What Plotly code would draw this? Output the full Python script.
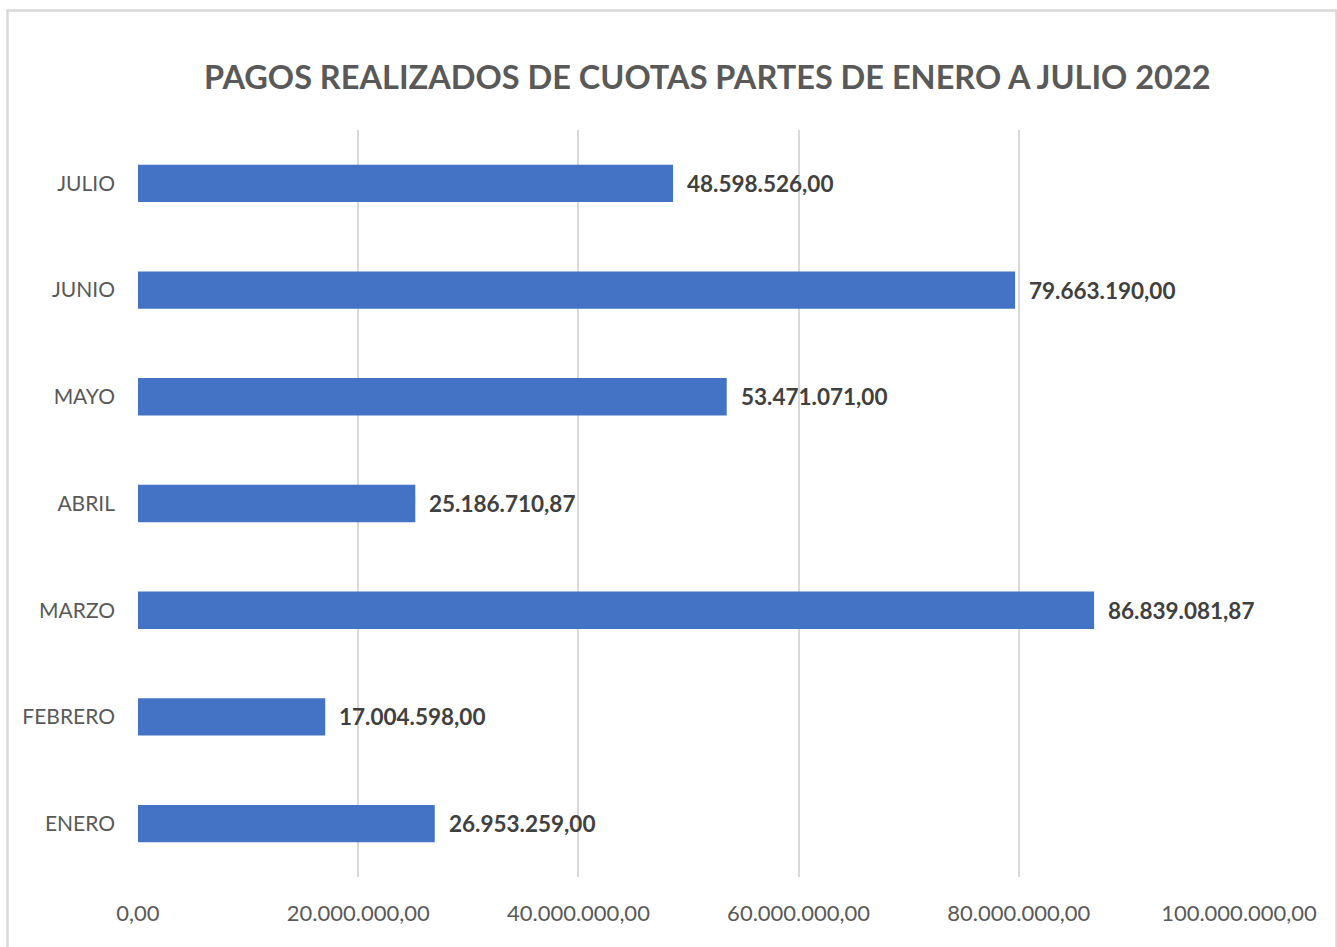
import plotly.graph_objects as go

# data
meses = ["ENERO", "FEBRERO", "MARZO", "ABRIL", "MAYO", "JUNIO", "JULIO"]
pagos = [26953259.00, 17004598.00, 86839081.87, 25186710.87, 53471071.00, 79663190.00, 48598526.00]
x_ticks = [0, 20000000, 40000000, 60000000, 80000000, 100000000]

FONT = "Lato, Open Sans, sans-serif"
GRAY = "#595959"


def fmt_es(v):
    # 48598526.0 -> "48.598.526,00"
    s = f"{v:,.2f}"
    return s.replace(",", "_").replace(".", ",").replace("_", ".")


fig = go.Figure()

fig.add_trace(
    go.Bar(
        x=pagos,
        y=meses,
        orientation="h",
        marker=dict(color="#4472C4", line=dict(width=0)),
        width=0.35,
        hoverinfo="skip",
    )
)

# value labels to the right of each bar
for m, v in zip(meses, pagos):
    fig.add_annotation(
        x=v,
        y=m,
        text=fmt_es(v),
        showarrow=False,
        xanchor="left",
        xshift=12,
        font=dict(family=FONT, size=22.5, color="#404040", weight="bold"),
    )

# light outer frame like the Excel chart area
fig.add_shape(
    type="rect",
    xref="paper",
    yref="paper",
    x0=-0.1185,
    x1=1.0885,
    y0=-0.2,
    y1=1.160,
    line=dict(color="#d9d9d9", width=2.5),
)

fig.update_layout(
    width=1337,
    height=947,
    margin=dict(l=138, r=98, t=130, b=70, autoexpand=False),
    paper_bgcolor="white",
    plot_bgcolor="white",
    separators=",.",
    showlegend=False,
    title=dict(
        text="PAGOS REALIZADOS DE CUOTAS PARTES DE ENERO A JULIO 2022",
        x=0.529,
        xanchor="center",
        y=0.918,
        yanchor="middle",
        font=dict(family=FONT, size=32.5, color=GRAY, weight="bold"),
    ),
    xaxis=dict(
        range=[0, 100000000],
        tickvals=x_ticks,
        tickformat=",.2f",
        showgrid=True,
        gridcolor="#d9d9d9",
        gridwidth=2,
        zeroline=False,
        showline=False,
        ticks="",
        automargin=False,
        ticklabelstandoff=21,
        tickfont=dict(family=FONT, size=22, color=GRAY),
    ),
    yaxis=dict(
        showgrid=False,
        zeroline=False,
        showline=False,
        ticks="",
        automargin=False,
        ticklabelstandoff=22,
        tickfont=dict(family=FONT, size=21, color=GRAY),
    ),
)

fig.write_html(
    "out.html",
    config={"displayModeBar": False},
    post_script="document.body.style.margin='0';",
)
